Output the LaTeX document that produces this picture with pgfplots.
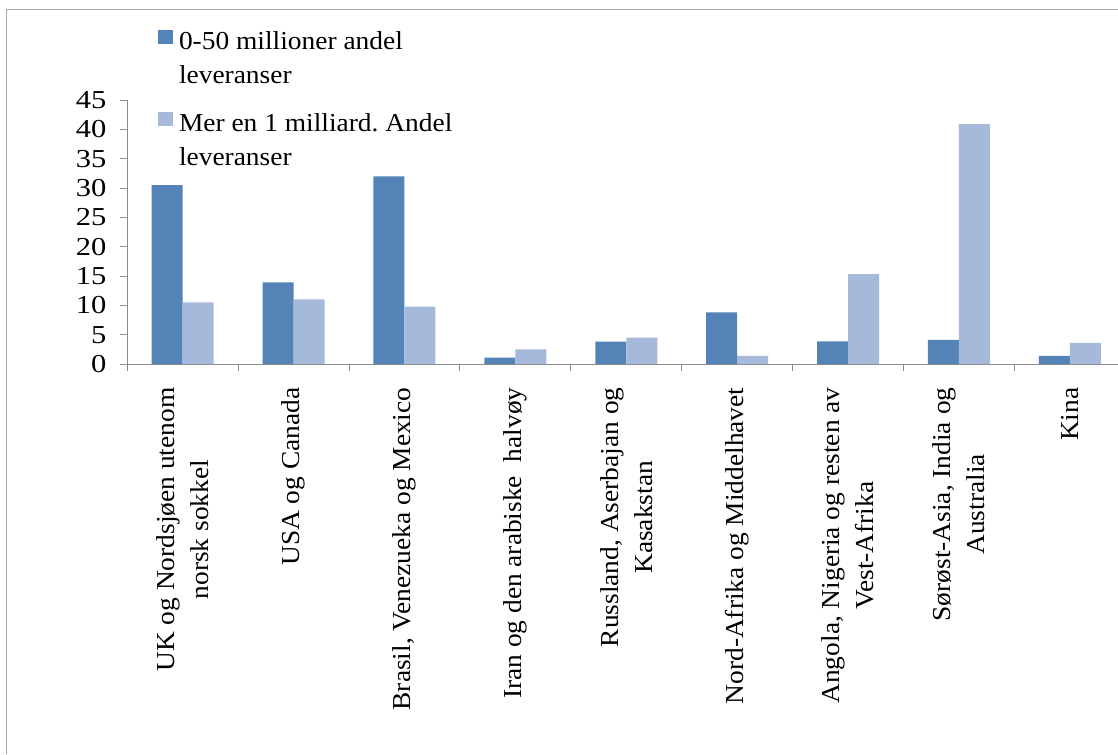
\documentclass[border=0pt]{standalone}
\usepackage{pgfplots}
\pgfplotsset{compat=1.18}
\usepackage{pgfplotstable}
\usepackage{fontspec}
\setmainfont{Liberation Serif}[FakeStretch=1.06]
\newfontfamily\tickfont{Liberation Serif}[FakeStretch=1.18]
\frenchspacing
\definecolor{darkbar}{HTML}{5383B7}
\definecolor{lightbar}{HTML}{A5B9DA}
\definecolor{axgray}{HTML}{8C8C8C}
\pgfplotstableread{
x a b
0 30.5 10.5
1 13.9 11.0
2 32.0 9.8
3 1.1 2.5
4 3.8 4.5
5 8.8 1.4
6 3.85 15.3
7 4.1 40.9
8 1.4 3.6
}\data
\begin{document}
\fontsize{19.4}{24.75}\selectfont
\begin{tikzpicture}[font=\fontsize{19.4}{24.75}\selectfont]
\begin{axis}[
 at={(0,0)}, anchor=south west, scale only axis,
 width=743.06pt, height=198pt,
 xmin=-0.5, xmax=8.434, ymin=0, ymax=45,
 axis lines*=left,
 axis line style={axgray, line width=0.75pt},
 ybar=0pt, bar width=23.25pt,
 ytick={0,5,...,45},
 xtick={-0.5,0.5,...,8.5},
 xticklabels={,,,,,,,,,,},
 extra x ticks={0,1,...,8},
 extra x tick labels={{UK og Nordsjøen utenom\\norsk sokkel},{USA og Canada},{Brasil, Venezueka og Mexico},{Iran og den arabiske~~halvøy},{Russland, Aserbajan og\\Kasakstan},{Nord-Afrika og Middelhavet},{Angola, Nigeria og resten av\\Vest-Afrika},{Sørøst-Asia, India og\\Australia},{Kina}},
 extra x tick style={major tick length=0pt, tick label style={yshift=-11pt, rotate=90, anchor=east, align=center}},
 tick align=outside,
 major tick length=5.25pt,
 tick style={axgray, line width=0.75pt},
 /pgf/number format/assume math mode=true,
 tick label style={font=\fontsize{19.4}{25.5}\selectfont},
 yticklabel style={xshift=-3.75pt, font=\fontsize{19.4}{24.75}\selectfont\tickfont},
 legend style={draw=none, fill=none, inner sep=0pt, outer sep=0pt,
   at={(rel axis cs:0,1)}, anchor=north west, xshift=23.06pt, yshift=53.5pt,
   font=\fontsize{19.4}{25.5}\selectfont,
   cells={anchor=north west, align=left, inner sep=2pt},
   column sep=2.75pt, row sep=15.5pt},
]
\addplot[fill=darkbar, draw=none,
  legend image code/.code={\fill[darkbar] (0pt,-11.5pt) rectangle (11pt,-0.8pt);}]
  table[x=x, y=a]{\data};
\addlegendentry{0-50 millioner andel\\leveranser}
\addplot[fill=lightbar, draw=none,
  legend image code/.code={\fill[lightbar] (0pt,-11.5pt) rectangle (11pt,-0.8pt);}]
  table[x=x, y=b]{\data};
\addlegendentry{Mer en 1 milliard. Andel\\leveranser}
\end{axis}
\draw[gray!70, line width=0.75pt] (-90.19pt,-292.5pt) -- (-90.19pt,265.5pt) -- (743.06pt,265.5pt);
\pgfresetboundingbox
\useasboundingbox (-95.44pt,-292.5pt) rectangle (743.06pt,273pt);
\end{tikzpicture}
\end{document}
